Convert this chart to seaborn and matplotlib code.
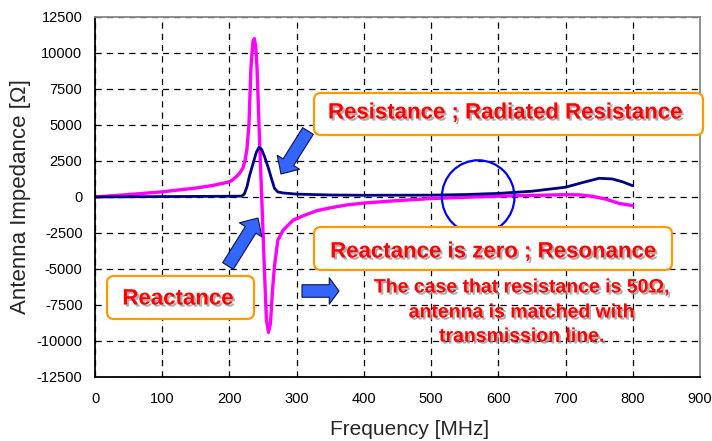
import matplotlib
matplotlib.use('Agg')
import matplotlib.pyplot as plt
import matplotlib.patheffects as pe
from matplotlib.patches import FancyBboxPatch, FancyArrowPatch, Ellipse
from matplotlib.transforms import IdentityTransform
import seaborn as sns

# reactance (magenta)
x_freq = [0, 50, 100, 150, 175, 200, 205, 210, 215, 220, 223, 226, 229, 232, 235, 237, 239, 241, 244,
          248, 252, 255, 258, 261, 264, 267, 272, 280, 295, 310, 330, 350, 375, 400, 450,
          500, 550, 575, 600, 650, 700, 720, 740, 760, 780, 800]
reactance = [0, 170, 360, 620, 800, 1050, 1200, 1400, 1650, 2000, 2500, 3300, 5000, 9000, 10800, 11000, 10500, 9000, 5000,
             0, -5000, -8500, -9400, -8800, -6500, -4800, -3000, -2300, -1600, -1300, -950, -750, -550, -420, -250,
             -110, -20, 20, 60, 110, 160, 150, 50, -150, -450, -600]

# resistance (navy)
r_freq = [0, 100, 200, 218, 222, 226, 230, 235, 240, 244, 248, 253, 258, 263, 267, 272,
          280, 300, 350, 400, 500, 550, 600, 650, 700, 725, 750, 770, 785, 800]
resistance = [0, 30, 50, 60, 200, 700, 1500, 2300, 3100, 3450, 3300, 2700, 2000, 1200, 600, 350,
              280, 200, 140, 120, 130, 170, 250, 400, 680, 1000, 1300, 1250, 1050, 780]

x_ticks = list(range(0, 1000, 100))
y_ticks = list(range(-12500, 15000, 2500))

sns.set_style('white')
plt.rcParams['font.family'] = ['Liberation Sans', 'DejaVu Sans']
plt.rcParams['axes.unicode_minus'] = False

fig = plt.figure(figsize=(7.12, 4.41), dpi=100)
ax = fig.add_axes([95 / 712, 64 / 441, 605 / 712, 360 / 441])

sns.lineplot(x=x_freq, y=reactance, color='#FF00FF', lw=2.4, ax=ax)
sns.lineplot(x=r_freq, y=resistance, color='#000080', lw=2.0, ax=ax)

ax.set_xlim(0, 900)
ax.set_ylim(-12500, 12500)
ax.set_xticks(x_ticks)
ax.set_yticks(y_ticks)
ax.grid(True, color='black', linestyle=(0, (5, 4)), lw=0.9)
ax.tick_params(length=0, labelsize=10.5, colors='black')
ax.tick_params(axis='y', pad=9)
ax.tick_params(axis='x', pad=11)
for s in ax.spines.values():
    s.set_color('black')
    s.set_linewidth(1.3)
ax.spines['right'].set_color('#888888')
ax.spines['top'].set_color('#888888')
ax.set_xlabel('Frequency [MHz]', fontsize=15, labelpad=8)
ax.xaxis.set_label_coords(315 / 605, -0.12)
ax.set_ylabel('Antenna Impedance [Ω]', fontsize=16, labelpad=4)

# circle around the resonance point
ax.add_patch(Ellipse((570, 0), 108, 5100, fill=False, ec='#0000FF', lw=1.6, zorder=5))

H = 441
ident = IdentityTransform()


def box(x0, y0, x1, y1):
    fig.patches.append(FancyBboxPatch((x0, H - y1), x1 - x0, y1 - y0,
                                      boxstyle='round,pad=0,rounding_size=7',
                                      fc='white', ec='#FF9900', lw=1.6,
                                      transform=ident, zorder=6))


def label(x, y, s, size=16):
    fig.text(x / 712, 1 - y / H, s, color='#FF0000', fontsize=size, fontweight='bold',
             ha='center', va='center', zorder=7,
             path_effects=[pe.withSimplePatchShadow(offset=(1.5, -1.5), shadow_rgbFace='#999999', alpha=0.8)])


def arrow(x0, y0, x1, y1, hl=10):
    fig.patches.append(FancyArrowPatch((x0, H - y0), (x1, H - y1), transform=ident,
                                       arrowstyle=f'simple,head_length={hl},head_width=19,tail_width=9',
                                       fc='#3366FF', ec='#10104a', lw=0.8,
                                       shrinkA=0, shrinkB=0, zorder=8))


box(314, 93, 703, 135)
box(314, 227, 672, 270)
box(107, 276, 254, 319)

label(505, 113, 'Resistance ; Radiated Resistance')
label(493, 252, 'Reactance is zero ; Resonance')
label(178, 299, 'Reactance')
label(522, 288, 'The case that resistance is 50Ω,', 14)
label(522, 313, 'antenna is matched with', 14)
label(522, 337, 'transmission line.', 14)

arrow(308, 131, 281, 174)
arrow(228, 266, 258, 218)
arrow(302, 291, 339, 291, hl=7)

fig.savefig('out.png', dpi=100)
